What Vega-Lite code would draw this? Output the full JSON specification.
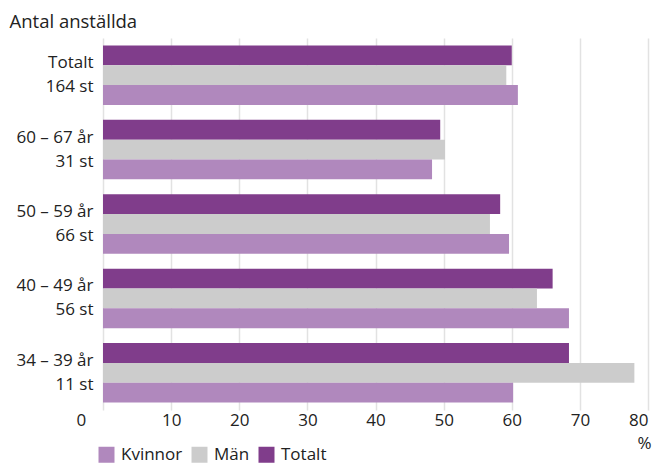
{
  "$schema": "https://vega.github.io/schema/vega-lite/v6.json",
  "autosize": "none",
  "width": 545,
  "height": 372,
  "padding": {"left": 103, "top": 38, "right": 11, "bottom": 56},
  "background": "white",
  "config": {
    "view": {"stroke": null},
    "font": "Open Sans",
    "axis": {"labelFont": "Open Sans", "titleFont": "Open Sans"},
    "legend": {"labelFont": "Open Sans"}
  },
  "data": {
    "values": [
      {"grupp": "Totalt|164 st", "serie": "Totalt", "andel": 60.0},
      {"grupp": "Totalt|164 st", "serie": "Män", "andel": 59.2},
      {"grupp": "Totalt|164 st", "serie": "Kvinnor", "andel": 60.9},
      {"grupp": "60 – 67 år|31 st", "serie": "Totalt", "andel": 49.5},
      {"grupp": "60 – 67 år|31 st", "serie": "Män", "andel": 50.2},
      {"grupp": "60 – 67 år|31 st", "serie": "Kvinnor", "andel": 48.3},
      {"grupp": "50 – 59 år|66 st", "serie": "Totalt", "andel": 58.3},
      {"grupp": "50 – 59 år|66 st", "serie": "Män", "andel": 56.8},
      {"grupp": "50 – 59 år|66 st", "serie": "Kvinnor", "andel": 59.6},
      {"grupp": "40 – 49 år|56 st", "serie": "Totalt", "andel": 66.0},
      {"grupp": "40 – 49 år|56 st", "serie": "Män", "andel": 63.7},
      {"grupp": "40 – 49 år|56 st", "serie": "Kvinnor", "andel": 68.4},
      {"grupp": "34 – 39 år|11 st", "serie": "Totalt", "andel": 68.4},
      {"grupp": "34 – 39 år|11 st", "serie": "Män", "andel": 78.0},
      {"grupp": "34 – 39 år|11 st", "serie": "Kvinnor", "andel": 60.2}
    ]
  },
  "mark": {"type": "bar"},
  "encoding": {
    "y": {
      "field": "grupp",
      "type": "nominal",
      "sort": null,
      "scale": {"paddingInner": 0.2, "paddingOuter": 0.1},
      "axis": {
        "title": "Antal anställda",
        "titleAngle": 0,
        "titleAlign": "left",
        "titleBaseline": "alphabetic",
        "titleX": -94,
        "titleY": -11,
        "titleFontSize": 18.5,
        "titleFontWeight": "normal",
        "titleColor": "#222222",
        "labelExpr": "split(datum.label, '|')",
        "labelFontSize": 17,
        "labelColor": "#222222",
        "labelLineHeight": 24,
        "labelOffset": -12,
        "labelPadding": 10,
        "domain": false,
        "ticks": false,
        "grid": false
      }
    },
    "yOffset": {
      "field": "serie",
      "type": "nominal",
      "scale": {"domain": ["Totalt", "Män", "Kvinnor"], "paddingInner": 0, "paddingOuter": 0}
    },
    "x": {
      "field": "andel",
      "type": "quantitative",
      "scale": {"domain": [0, 80], "nice": false},
      "axis": {
        "values": [0, 10, 20, 30, 40, 50, 60, 70, 80],
        "title": "%",
        "titleX": 541,
        "titleY": 33,
        "titleAlign": "center",
        "titleBaseline": "middle",
        "titleFontSize": 17,
        "titleFontWeight": "normal",
        "titleColor": "#222222",
        "labelFontSize": 17,
        "labelColor": "#222222",
        "labelPadding": 2,
        "labelOffset": {"condition": {"test": "datum.value === 0", "value": -27}, "value": 0},
        "domain": false,
        "ticks": false,
        "grid": true,
        "gridColor": "#e2e2e2",
        "gridWidth": 1.5
      }
    },
    "color": {
      "field": "serie",
      "type": "nominal",
      "scale": {"domain": ["Kvinnor", "Män", "Totalt"], "range": ["#b088bd", "#cccccc", "#803d8b"]},
      "legend": {
        "title": null,
        "orient": "none",
        "direction": "horizontal",
        "legendX": -5,
        "legendY": 408,
        "symbolType": "square",
        "symbolSize": 256,
        "symbolStrokeWidth": 0,
        "symbolOpacity": 1,
        "labelFontSize": 17,
        "labelColor": "#222222",
        "labelOffset": 6,
        "columnPadding": 8
      }
    }
  }
}
